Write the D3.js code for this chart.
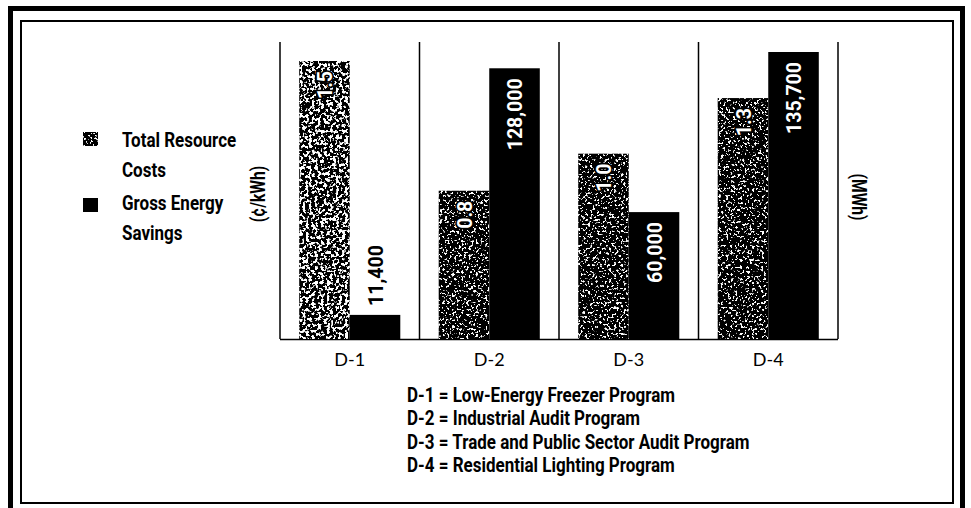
<!DOCTYPE html>
<html>
<head>
<meta charset="utf-8">
<script src="https://cdn.jsdelivr.net/npm/d3@7"></script>
<style>
  html, body { margin: 0; padding: 0; background: #fff; }
  svg { display: block; }
  .narrow { font-family: Roboto, "DejaVu Sans", sans-serif; font-weight: 700; }
  .geo { font-family: Lato, "Open Sans", sans-serif; }
</style>
</head>
<body>
<svg id="chart" width="971" height="508"></svg>
<script>
// ---- data ----
const categories = ["D-1", "D-2", "D-3", "D-4"];
const costValues = [1.5, 0.8, 1.0, 1.3];           // Total Resource Costs (¢/kWh)
const costLabels = ["1.5", "0.8", "1.0", "1.3"];
const savingsValues = [11400, 128000, 60000, 135700]; // Gross Energy Savings (MWh)
const savingsLabels = ["11,400", "128,000", "60,000", "135,700"];
const seriesNames = [["Total Resource", "Costs"], ["Gross Energy", "Savings"]];
const programNames = [
  "D-1 = Low-Energy Freezer Program",
  "D-2 = Industrial Audit Program",
  "D-3 = Trade and Public Sector Audit Program",
  "D-4 = Residential Lighting Program"
];
const costUnit = "(¢/kWh)";
const savingsUnit = "(MWh)";

// ---- layout / style ----
const svg = d3.select("#chart");
const plot = { left: 280, right: 838, top: 42, bottom: 339 };
const SQ = 0.85;   // horizontal squeeze to imitate a condensed face
const TSQ = 0.78;  // squeeze for unit titles
const VSQ = 0.93;  // squeeze for value labels

const defs = svg.append("defs");
function speckle(id, freq, slope, offset, seed) {
  const f = defs.append("filter").attr("id", id)
    .attr("x", 0).attr("y", 0).attr("width", 1).attr("height", 1);
  f.append("feTurbulence").attr("type", "fractalNoise")
    .attr("baseFrequency", freq).attr("numOctaves", 2).attr("seed", seed).attr("result", "n");
  f.append("feColorMatrix").attr("in", "n").attr("type", "matrix")
    .attr("values", `0 0 0 0 1  0 0 0 0 1  0 0 0 0 1  ${slope} 0 0 0 ${offset}`)
    .attr("result", "w");
  f.append("feComposite").attr("in", "w").attr("in2", "SourceGraphic").attr("operator", "in").attr("result", "wc");
  const m = f.append("feMerge");
  m.append("feMergeNode").attr("in", "SourceGraphic");
  m.append("feMergeNode").attr("in", "wc");
}
speckle("speckDense", 0.33, 16, -8.3, 4);
speckle("speck", 0.42, 16, -9.4, 7);

// frames
svg.append("rect").attr("x", 10.5).attr("y", 8.5).attr("width", 952).attr("height", 510)
  .attr("fill", "none").attr("stroke", "#000").attr("stroke-width", 5);
svg.append("rect").attr("x", 21).attr("y", 21).attr("width", 932).attr("height", 482)
  .attr("fill", "none").attr("stroke", "#000").attr("stroke-width", 2);

// scales
const x = d3.scaleBand().domain(categories).range([plot.left, plot.right]).padding(0);
const yCost = d3.scaleLinear().domain([0, 1.5]).range([plot.bottom, 61]);
const ySav = d3.scaleLinear().domain([0, 135700]).range([plot.bottom, 52]);
const inner = d3.scaleBand().domain(["cost", "sav"]).range([0, x.bandwidth()]).paddingInner(0).paddingOuter(0.38);

// panel dividers
const edges = categories.map(c => x(c)).concat([x(categories[categories.length - 1]) + x.bandwidth()]);
svg.append("g").selectAll("line").data(edges).join("line")
  .attr("x1", d => d).attr("x2", d => d)
  .attr("y1", plot.top).attr("y2", plot.bottom)
  .attr("stroke", "#000").attr("stroke-width", 1.5);
svg.append("line").attr("x1", plot.left).attr("x2", plot.right)
  .attr("y1", plot.bottom + 0.5).attr("y2", plot.bottom + 0.5)
  .attr("stroke", "#000").attr("stroke-width", 1.5);

// bars
const rows = categories.map((c, i) => ({ c, i, cost: costValues[i], sav: savingsValues[i] }));
const g = svg.append("g");
g.selectAll("rect.cost").data(rows).join("rect").attr("class", "cost")
  .attr("x", d => x(d.c) + inner("cost"))
  .attr("width", inner.bandwidth())
  .attr("y", d => yCost(d.cost))
  .attr("height", d => yCost(0) - yCost(d.cost))
  .attr("fill", "#000")
  .attr("filter", d => d.i === 0 ? "url(#speckDense)" : "url(#speck)");
g.selectAll("rect.sav").data(rows).join("rect").attr("class", "sav")
  .attr("x", d => x(d.c) + inner("sav"))
  .attr("width", inner.bandwidth())
  .attr("y", d => ySav(d.sav))
  .attr("height", d => ySav(0) - ySav(d.sav))
  .attr("fill", "#000");

// value labels
g.selectAll("text.costlab").data(rows).join("text").attr("class", "costlab narrow")
  .attr("transform", d => `translate(${x(d.c) + inner("cost") + inner.bandwidth() / 2},${yCost(d.cost) + 10}) rotate(-90) scale(${VSQ},1)`)
  .attr("text-anchor", "end").attr("dy", "0.36em")
  .attr("font-size", 21)
  .attr("fill", "#fff").attr("stroke", "#000").attr("stroke-width", 3.5).attr("paint-order", "stroke")
  .text(d => costLabels[d.i]);

g.selectAll("text.savlab").data(rows).join("text").attr("class", "savlab narrow")
  .each(function (d) {
    const h = ySav(0) - ySav(d.sav);
    const cx = x(d.c) + inner("sav") + inner.bandwidth() / 2;
    const outside = h < 70;
    d3.select(this)
      .attr("transform", `translate(${cx},${outside ? ySav(d.sav) - 9 : ySav(d.sav) + 10}) rotate(-90) scale(${VSQ},1)`)
      .attr("text-anchor", outside ? "start" : "end")
      .attr("fill", outside ? "#000" : "#fff");
  })
  .attr("dy", "0.36em")
  .attr("font-size", 21)
  .text(d => savingsLabels[d.i]);

// category axis
const axis = svg.append("g").attr("transform", `translate(0,${plot.bottom})`)
  .call(d3.axisBottom(x).tickSize(0).tickPadding(14));
axis.select(".domain").remove();
axis.selectAll("text").attr("class", "geo").attr("font-size", 18).attr("fill", "#000")
  .attr("dy", "0.71em");

// axis titles
svg.append("text").attr("class", "narrow")
  .attr("transform", `translate(258,194) rotate(-90) scale(${TSQ},1)`)
  .attr("text-anchor", "middle").attr("dy", "0.36em").attr("font-size", 20)
  .text(costUnit);
svg.append("text").attr("class", "narrow")
  .attr("transform", `translate(859,197) rotate(90) scale(${TSQ},1)`)
  .attr("text-anchor", "middle").attr("dy", "0.36em").attr("font-size", 20)
  .text(savingsUnit);

// series legend
const leg = svg.append("g");
const swY = [132, 198];
const textY = [147, 210];
seriesNames.forEach((lines, i) => {
  leg.append("rect").attr("x", 83).attr("y", swY[i]).attr("width", 15).attr("height", 14)
    .attr("fill", "#000").attr("filter", i === 0 ? "url(#speck)" : null);
  lines.forEach((t, j) => {
    leg.append("text").attr("class", "narrow")
      .attr("transform", `translate(122,${textY[i] + j * 30}) scale(${SQ},1)`)
      .attr("font-size", 20).text(t);
  });
});

// program key
svg.append("g").selectAll("text").data(programNames).join("text")
  .attr("class", "narrow")
  .attr("transform", (d, i) => `translate(407,${402 + i * 23.4}) scale(${SQ},1)`)
  .attr("font-size", 20)
  .text(d => d);
</script>
</body>
</html>
